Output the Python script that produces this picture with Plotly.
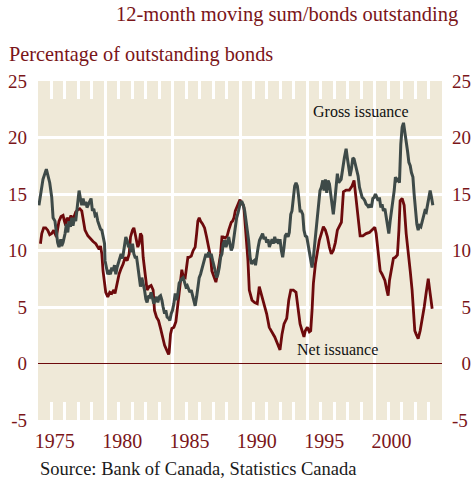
import plotly.graph_objects as go

# ---- data (decimal years, % of outstanding bonds) ----
gross_year = [1974.07, 1974.20, 1974.37, 1974.62, 1974.77, 1974.87, 1975.02, 1975.12, 1975.26, 1975.37,
              1975.46, 1975.56, 1975.69, 1975.76, 1975.86, 1976.01, 1976.11, 1976.21, 1976.30, 1976.41,
              1976.51, 1976.60, 1976.71, 1976.80, 1976.90, 1977.00, 1977.05, 1977.15, 1977.25, 1977.35,
              1977.45, 1977.55, 1977.64, 1977.75, 1977.84, 1977.94, 1978.04, 1978.14, 1978.24, 1978.34,
              1978.44, 1978.54, 1978.64, 1978.74, 1978.83, 1978.94, 1978.98, 1979.09, 1979.18, 1979.28,
              1979.38, 1979.48, 1979.58, 1979.68, 1979.78, 1979.87, 1979.98, 1980.07, 1980.17, 1980.28,
              1980.37, 1980.47, 1980.52, 1980.62, 1980.72, 1980.82, 1980.91, 1981.02, 1981.12, 1981.21,
              1981.32, 1981.39, 1981.51, 1981.61, 1981.71, 1981.81, 1981.91, 1982.01, 1982.10, 1982.21,
              1982.30, 1982.40, 1982.51, 1982.60, 1982.70, 1982.80, 1982.90, 1983.00, 1983.10, 1983.20,
              1983.29, 1983.40, 1983.49, 1983.59, 1983.70, 1983.79, 1983.89, 1983.99, 1984.09, 1984.19,
              1984.29, 1984.39, 1984.48, 1984.59, 1984.68, 1984.78, 1984.88, 1984.98, 1985.08, 1985.18,
              1985.28, 1985.38, 1985.48, 1985.58, 1985.67, 1985.78, 1985.87, 1985.97, 1986.07, 1986.17,
              1986.27, 1986.37, 1986.47, 1986.57, 1986.67, 1986.77, 1986.86, 1986.97, 1987.06, 1987.16,
              1987.26, 1987.36, 1987.46, 1987.56, 1987.66, 1987.75, 1987.86, 1987.96, 1988.05, 1988.16,
              1988.25, 1988.35, 1988.45, 1988.55, 1988.65, 1988.75, 1988.85, 1988.95, 1989.04, 1989.15,
              1989.25, 1989.35, 1989.45, 1989.55, 1989.64, 1989.75, 1989.85, 1989.95, 1990.05, 1990.15,
              1990.25, 1990.35, 1990.45, 1990.55, 1990.68, 1990.78, 1990.88, 1990.98, 1991.08, 1991.18,
              1991.28, 1991.38, 1991.47, 1991.58, 1991.67, 1991.77, 1991.87, 1991.97, 1992.07, 1992.17,
              1992.27, 1992.36, 1992.47, 1992.57, 1992.66, 1992.77, 1992.86, 1992.96, 1993.06, 1993.16,
              1993.26, 1993.36, 1993.46, 1993.55, 1993.66, 1993.75, 1993.85, 1993.96, 1994.05, 1994.15,
              1994.25, 1994.35, 1994.45, 1994.55, 1994.65, 1994.74, 1994.85, 1994.94, 1995.04, 1995.15,
              1995.24, 1995.34, 1995.44, 1995.54, 1995.64, 1995.74, 1995.84, 1995.93, 1996.04, 1996.13,
              1996.23, 1996.33, 1996.51, 1996.75, 1996.88, 1996.97, 1997.08, 1997.17, 1997.27, 1997.38,
              1997.47, 1997.57, 1997.67, 1997.77, 1997.87, 1997.97, 1998.07, 1998.16, 1998.27, 1998.36,
              1998.46, 1998.57, 1998.66, 1998.76, 1998.86, 1998.96, 1999.06, 1999.16, 1999.26, 1999.35,
              1999.46, 1999.55, 1999.65, 1999.76, 1999.85, 1999.95, 2000.05, 2000.15, 2000.25, 2000.35,
              2000.45, 2000.54, 2000.65, 2000.74, 2000.84, 2000.94, 2001.04, 2001.14, 2001.24, 2001.34,
              2001.44, 2001.54, 2001.64, 2001.73, 2001.84, 2001.93, 2002.03, 2002.13, 2002.23, 2002.33,
              2002.43, 2002.53, 2002.62, 2002.73, 2002.83, 2002.92, 2003.03, 2003.12, 2003.22, 2003.32]
gross_value = [14.0, 15.0, 16.3, 17.2, 16.6, 16.0, 14.7, 12.9, 12.6, 11.5,
               10.7, 10.3, 11.0, 10.4, 10.7, 11.5, 12.35, 11.6, 12.6, 12.1,
               12.9, 12.2, 12.9, 12.6, 13.5, 14.4, 15.3, 14.6, 14.0, 14.6,
               14.0, 14.3, 13.8, 14.1, 14.4, 14.6, 13.5, 13.7, 13.1, 13.2,
               12.6, 12.2, 11.9, 11.8, 11.2, 10.6, 9.1, 8.2, 7.9, 8.1,
               7.9, 8.5, 8.2, 8.7, 7.9, 8.5, 9.0, 9.3, 9.7, 9.3,
               10.0, 10.6, 11.2, 10.9, 10.3, 10.6, 9.85, 10.6, 9.7, 9.4,
               9.4, 8.8, 7.9, 6.8, 7.6, 7.1, 6.5, 5.7, 5.4, 6.0,
               5.9, 6.3, 5.7, 5.3, 5.6, 5.9, 5.4, 5.9, 6.0, 5.6,
               5.0, 4.4, 4.7, 4.1, 4.0, 3.8, 4.4, 4.7, 5.3, 6.2,
               5.6, 6.2, 7.1, 7.4, 7.5, 7.6, 7.1, 6.8, 6.9, 6.5,
               6.3, 6.5, 5.9, 5.6, 5.1, 5.9, 6.8, 7.6, 7.9, 8.4,
               8.8, 9.4, 9.7, 9.4, 9.85, 9.4, 9.7, 9.1, 8.5, 8.2,
               7.6, 7.9, 8.5, 9.4, 9.7, 10.6, 10.9, 10.3, 10.7, 11.2,
               10.6, 10.0, 10.3, 11.2, 12.1, 12.9, 13.3, 13.8, 14.3, 14.3,
               14.0, 13.5, 12.6, 12.1, 10.9, 9.4, 8.8, 9.0, 9.1, 8.7,
               9.7, 10.3, 10.9, 11.2, 11.5, 11.0, 11.2, 10.7, 11.0, 10.3,
               10.7, 11.0, 10.6, 11.2, 10.7, 11.0, 10.6, 11.0, 10.0, 9.4,
               10.3, 11.3, 11.5, 11.2, 11.6, 13.2, 13.5, 14.7, 15.7, 16.0,
               15.7, 14.7, 13.5, 13.5, 13.2, 11.8, 11.3, 11.2, 10.6, 9.7,
               9.1, 8.5, 9.4, 10.6, 12.1, 13.5, 14.85, 15.3, 15.6, 16.2,
               15.3, 16.3, 15.1, 16.2, 15.9, 15.0, 13.8, 13.2, 14.4, 15.6,
               16.8, 16.0, 16.3, 18.2, 19.0, 18.2, 17.35, 16.6, 17.2, 18.2,
               18.1, 17.6, 17.35, 16.6, 15.6, 15.0, 14.7, 14.6, 14.4, 14.1,
               14.0, 13.8, 14.1, 13.8, 14.6, 14.7, 15.0, 14.7, 14.4, 14.7,
               13.8, 14.1, 13.5, 13.7, 12.9, 12.5, 11.5, 12.6, 13.4, 14.1,
               15.3, 16.5, 16.2, 16.3, 16.0, 19.4, 20.9, 21.3, 20.6, 19.7,
               18.8, 17.8, 17.5, 16.9, 16.5, 15.0, 13.5, 12.35, 11.8, 12.2,
               12.1, 12.6, 12.9, 13.5, 13.4, 14.1, 15.0, 15.3, 14.7, 14.0]

net_year = [1974.18, 1974.28, 1974.42, 1974.57, 1974.72, 1974.87, 1975.02, 1975.17, 1975.26, 1975.37,
            1975.46, 1975.56, 1975.71, 1975.86, 1975.96, 1976.06, 1976.16, 1976.30, 1976.45, 1976.56,
            1976.65, 1976.80, 1976.95, 1977.10, 1977.25, 1977.35, 1977.49, 1977.70, 1977.90, 1978.09,
            1978.29, 1978.44, 1978.54, 1978.64, 1978.74, 1978.83, 1978.94, 1979.03, 1979.18, 1979.33,
            1979.48, 1979.63, 1979.72, 1979.87, 1980.02, 1980.17, 1980.32, 1980.47, 1980.62, 1980.77,
            1980.87, 1981.02, 1981.12, 1981.21, 1981.32, 1981.41, 1981.51, 1981.61, 1981.71, 1981.81,
            1981.96, 1982.10, 1982.25, 1982.40, 1982.55, 1982.65, 1982.80, 1982.95, 1983.10, 1983.25,
            1983.40, 1983.55, 1983.70, 1983.74, 1983.84, 1983.94, 1984.09, 1984.24, 1984.39, 1984.54,
            1984.68, 1984.78, 1984.93, 1985.03, 1985.13, 1985.23, 1985.38, 1985.52, 1985.67, 1985.78,
            1985.87, 1985.97, 1986.07, 1986.22, 1986.37, 1986.52, 1986.67, 1986.82, 1986.91, 1987.01,
            1987.12, 1987.21, 1987.31, 1987.46, 1987.56, 1987.66, 1987.75, 1987.90, 1988.05, 1988.16,
            1988.25, 1988.35, 1988.45, 1988.55, 1988.65, 1988.75, 1988.85, 1989.00, 1989.09, 1989.24,
            1989.29, 1989.44, 1989.59, 1989.69, 1989.89, 1990.09, 1990.28, 1990.43, 1990.58, 1990.78,
            1990.98, 1991.17, 1991.37, 1991.58, 1991.77, 1991.97, 1992.12, 1992.27, 1992.47, 1992.62,
            1992.77, 1992.96, 1993.16, 1993.31, 1993.46, 1993.61, 1993.75, 1993.85, 1994.00, 1994.15,
            1994.25, 1994.35, 1994.45, 1994.60, 1994.74, 1994.89, 1995.04, 1995.19, 1995.34, 1995.49,
            1995.64, 1995.78, 1995.93, 1996.08, 1996.23, 1996.38, 1996.53, 1996.68, 1996.88, 1997.12,
            1997.32, 1997.47, 1997.62, 1997.77, 1997.92, 1998.12, 1998.36, 1998.61, 1998.86, 1999.01,
            1999.11, 1999.26, 1999.41, 1999.55, 1999.76, 1999.90, 2000.00, 2000.10, 2000.25, 2000.39,
            2000.54, 2000.69, 2000.80, 2000.89, 2001.04, 2001.19, 2001.34, 2001.49, 2001.64, 2001.78,
            2001.88, 2001.98, 2002.08, 2002.23, 2002.38, 2002.53, 2002.68, 2002.83, 2002.98, 2003.12,
            2003.27]
net_value = [10.6, 11.5, 12.0, 12.0, 11.8, 11.4, 11.5, 11.8, 11.5, 11.2,
             11.9, 12.6, 13.0, 13.1, 12.6, 12.2, 12.9, 12.6, 13.1, 12.6,
             12.9, 13.4, 13.6, 13.7, 13.5, 12.6, 11.8, 11.3, 11.0, 10.8,
             10.6, 10.3, 10.1, 10.4, 9.7, 8.2, 6.8, 6.3, 5.9, 6.3,
             6.2, 6.5, 6.2, 7.2, 7.9, 8.4, 8.8, 9.4, 9.1, 9.7,
             11.2, 11.8, 12.0, 11.5, 10.8, 10.3, 10.6, 11.5, 11.3, 9.4,
             7.9, 6.5, 6.8, 6.9, 6.5, 4.7, 4.1, 3.8, 3.1, 2.35,
             1.6, 1.2, 0.8, 1.0, 2.6, 3.1, 3.2, 3.7, 5.3, 6.8,
             8.3, 7.7, 7.6, 8.5, 9.4, 9.4, 9.5, 10.0, 10.3, 11.5,
             12.6, 12.9, 12.6, 12.35, 12.0, 11.2, 10.3, 9.4, 8.2, 7.8,
             7.5, 7.2, 7.8, 9.0, 9.7, 11.2, 11.2, 11.1, 11.3, 11.8,
             12.2, 12.5, 12.6, 12.9, 13.5, 13.8, 14.1, 14.5, 14.2, 14.0,
             13.8, 11.8, 9.1, 6.5, 5.6, 5.4, 5.3, 6.8, 6.2, 5.3,
             4.4, 3.2, 2.8, 2.35, 1.8, 1.2, 2.6, 3.5, 4.0, 5.6,
             6.5, 6.5, 6.3, 4.7, 3.5, 2.9, 2.35, 2.9, 3.2, 2.8,
             2.9, 4.7, 7.1, 8.8, 10.0, 10.9, 11.5, 12.1, 11.8, 11.2,
             10.3, 9.7, 10.0, 10.7, 11.8, 12.1, 12.5, 15.2, 15.35, 15.35,
             15.7, 16.2, 14.7, 12.9, 11.3, 11.3, 11.5, 11.6, 11.9, 12.06,
             11.5, 10.0, 8.2, 7.9, 7.35, 6.5, 6.0, 7.35, 8.5, 9.3,
             9.4, 9.6, 11.8, 14.4, 14.6, 14.0, 11.5, 10.0, 8.2, 6.5,
             4.7, 2.9, 2.6, 2.2, 2.9, 3.8, 5.0, 6.3, 7.5, 6.2,
             4.85]

year_label_pos = [1975.25, 1980.25, 1985.25, 1990.25, 1995.25, 2000.25]
year_labels = ["1975", "1980", "1985", "1990", "1995", "2000"]
y_ticks = [-5, 0, 5, 10, 15, 20, 25]
y_labels_left = ["-5", "0", "5", "10", "15", "20", "25"]
y_labels_right = ["-5", "\u00a0\u00a00", "\u00a0\u00a05", "10", "15", "20", "25"]

# ---- styles ----
FONT = "Liberation Serif"
RED_TEXT = "#7a1519"
NET_COLOR = "#6d0a0c"
GROSS_COLOR = "#3e4a48"
BG = "#efe9d8"
TICKFONT = dict(size=19, family=FONT, color=RED_TEXT)
XTICKFONT = dict(size=20, family=FONT, color=RED_TEXT)

xr = [1974.0, 2004.0]
yr = [-5, 25]

fig = go.Figure()
fig.add_trace(go.Scatter(x=net_year, y=net_value, mode="lines", name="Net issuance",
                         line=dict(color=NET_COLOR, width=2.8), hoverinfo="skip"))
fig.add_trace(go.Scatter(x=gross_year, y=gross_value, mode="lines", name="Gross issuance",
                         line=dict(color=GROSS_COLOR, width=3), hoverinfo="skip"))
# invisible copies so that the helper axes (labels on the right / bottom, ticks on top) are drawn
fig.add_trace(go.Scatter(x=net_year, y=net_value, mode="lines", xaxis="x2", yaxis="y2",
                         opacity=0, line=dict(width=0), hoverinfo="skip", showlegend=False))
fig.add_trace(go.Scatter(x=net_year, y=net_value, mode="lines", xaxis="x3", yaxis="y",
                         opacity=0, line=dict(width=0), hoverinfo="skip", showlegend=False))

fig.update_layout(
    width=472, height=481,
    margin=dict(l=38, r=30, t=81, b=61),
    paper_bgcolor="white", plot_bgcolor=BG,
    showlegend=False,
    font=dict(family=FONT, color=RED_TEXT),
    xaxis=dict(range=xr, tick0=1979, dtick=5, showgrid=True, gridcolor="white", gridwidth=2.7,
               ticks="", showticklabels=False, zeroline=False, showline=False, automargin=False,
               minor=dict(tick0=1974, dtick=1, ticks="inside", ticklen=18, tickwidth=2.5,
                          tickcolor="white", showgrid=False)),
    xaxis2=dict(range=xr, overlaying="x", side="bottom", anchor="y2", tickmode="array",
                tickvals=year_label_pos, ticktext=year_labels, showgrid=False, zeroline=False,
                ticks="", ticklabelstandoff=7, tickfont=XTICKFONT, automargin=False),
    xaxis3=dict(range=xr, overlaying="x", side="top", anchor="y", tick0=1974, dtick=1,
                ticks="inside", ticklen=18, tickwidth=2.5, tickcolor="white",
                showticklabels=False, showgrid=False, zeroline=False, automargin=False),
    yaxis=dict(range=yr, tickmode="array", tickvals=y_ticks, ticktext=y_labels_left,
               showgrid=True, gridcolor="white", gridwidth=2.7, zeroline=True,
               zerolinecolor=NET_COLOR, zerolinewidth=1.3, ticks="",
               ticklabelstandoff=10, tickfont=TICKFONT, automargin=False),
    yaxis2=dict(range=yr, overlaying="y", side="right", anchor="x2", tickmode="array",
                tickvals=y_ticks, ticktext=y_labels_right, showgrid=False, zeroline=False,
                ticks="", ticklabelstandoff=9, tickfont=TICKFONT, automargin=False),
)

fig.add_annotation(text="12-month moving sum/bonds outstanding", xref="paper", yref="paper",
                   x=1.045, y=1.195, xanchor="right", yanchor="middle", showarrow=False,
                   font=dict(size=20.5, family=FONT, color=RED_TEXT))
fig.add_annotation(text="Percentage of outstanding bonds", xref="paper", yref="paper",
                   x=-0.077, y=1.077, xanchor="left", yanchor="middle", showarrow=False,
                   font=dict(size=20.3, family=FONT, color=RED_TEXT))
fig.add_annotation(text="Source: Bank of Canada, Statistics Canada", xref="paper", yref="paper",
                   x=0.0, y=-0.146, xanchor="left", yanchor="middle", showarrow=False,
                   font=dict(size=18.5, family=FONT, color="#1a1a1a"))
fig.add_annotation(text="Gross issuance", xref="x", yref="y", x=1994.27, y=22.3,
                   xanchor="left", yanchor="middle", showarrow=False,
                   font=dict(size=16, family=FONT, color="#111111"))
fig.add_annotation(text="Net issuance", xref="x", yref="y", x=1993.1, y=1.2,
                   xanchor="left", yanchor="middle", showarrow=False,
                   font=dict(size=16, family=FONT, color="#111111"))

# remove the browser's default 8px page margin so the figure sits at the window's corner
fig.write_html("out.html", config={"displayModeBar": False},
               post_script="document.body.style.margin='0';document.body.style.overflow='hidden';")
